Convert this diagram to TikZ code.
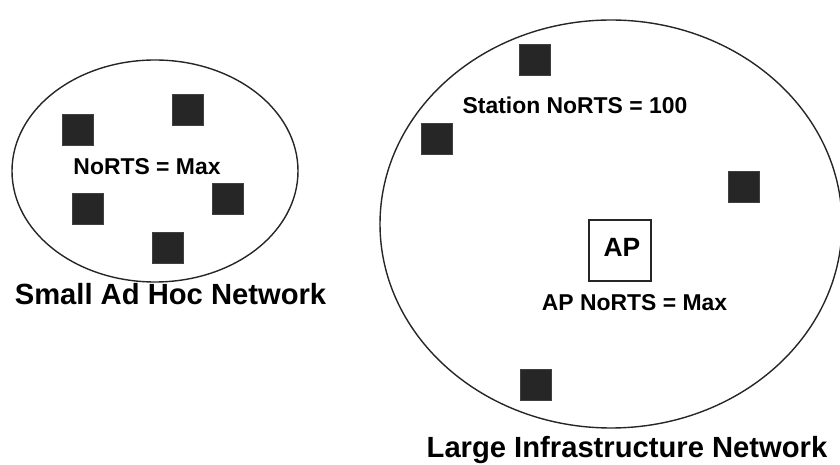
\documentclass[tikz,border=0pt]{standalone}
\usepackage{fontspec}
\setmainfont{Liberation Sans}
\begin{document}
\begin{tikzpicture}[x=1bp,y=-1bp,
  station/.style={fill=black!85,draw=black!75,line width=0.6bp,minimum size=31bp,inner sep=0pt},
  cell/.style={draw=black!85,line width=1.4bp},
  tag/.style={inner sep=0pt,anchor=base,font=\fontsize{23}{23}\selectfont\bfseries},
  title/.style={inner sep=0pt,anchor=base,font=\fontsize{29.3}{29.3}\selectfont\bfseries},
  apbox/.style={draw=black!85,line width=1.2bp,minimum width=62bp,minimum height=61bp,inner sep=0pt}]
  \useasboundingbox (0,0) rectangle (840,465);
  \begin{scope}
    \clip (0,0) rectangle (840,465);

    % small ad hoc network
    \draw[cell] (155,171) ellipse [x radius=143, y radius=111];
    \node[station] (s1) at (77.5,130) {};
    \node[station] (s2) at (187.5,109.5) {};
    \node[station] (s3) at (87.5,208.5) {};
    \node[station] (s4) at (227.5,198.5) {};
    \node[station] (s5) at (168,247.5) {};
    \node[tag] (adhoclbl) at (147,175) {NoRTS = Max};
    \node[title] (adhoc) at (170.5,305) {Small Ad Hoc Network};

    % large infrastructure network
    \draw[cell] (611,224) ellipse [x radius=231, y radius=204];
    \node[station] (b1) at (535,59.5) {};
    \node[station] (b2) at (437,138.5) {};
    \node[station] (b3) at (743.5,186.5) {};
    \node[station] (b4) at (535.5,385) {};
    \node[apbox] (ap) at (620,250.5) {};
    \node[tag,font=\fontsize{26.5}{26.5}\selectfont\bfseries] (aplbl) at (622,257) {AP};
    \node[tag] (stalbl) at (575,114) {Station NoRTS = 100};
    \node[tag] (apnorts) at (634.5,311) {AP NoRTS = Max};
    \node[title] (infra) at (627,457) {Large Infrastructure Network};
  \end{scope}
\end{tikzpicture}
\end{document}
